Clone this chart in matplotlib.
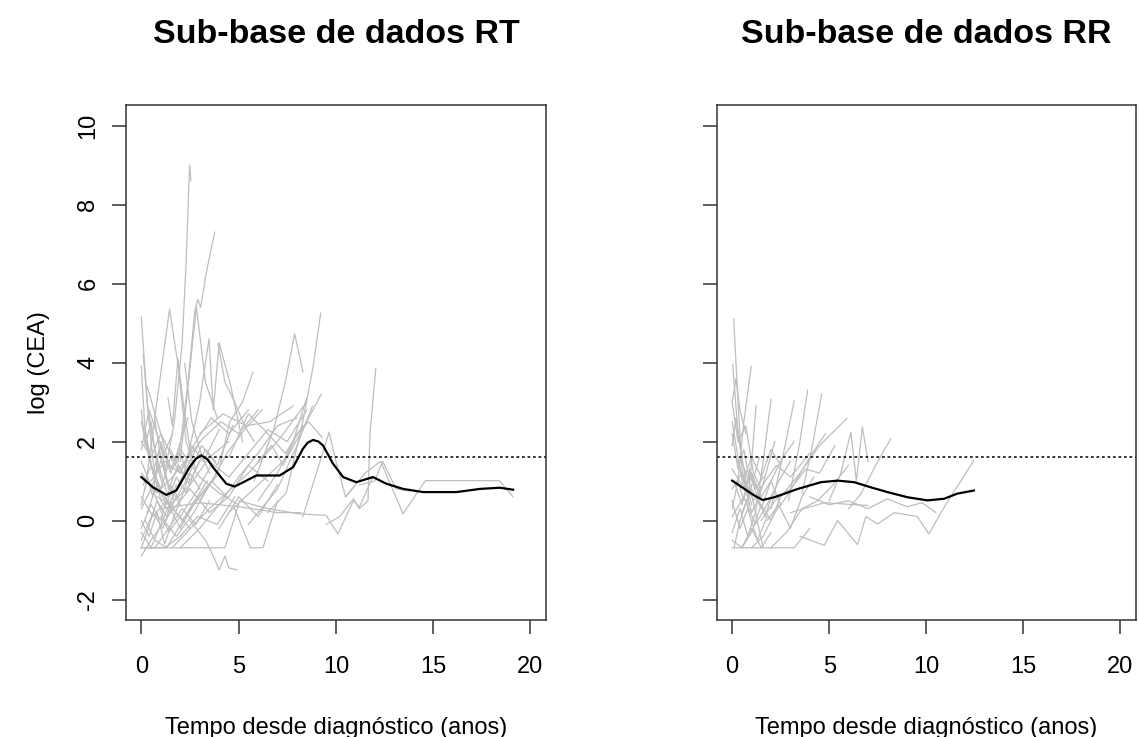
import numpy as np
import matplotlib.pyplot as plt

plt.rcParams['font.family'] = ['Liberation Sans', 'DejaVu Sans']
plt.rcParams['axes.unicode_minus'] = False

# perfis individuais de log(CEA) - sub-base RT
rt_tempo = [
    [1.2, 1.7, 2.1, 2.3, 2.48, 2.55],
    [1.9, 2.4, 2.75, 2.9, 3.05, 3.35, 3.77],
    [0.0, 0.3, 0.6, 1.0, 1.5],
    [0.2, 0.8, 1.45, 1.9, 2.3, 2.8],
    [2.2, 3.0, 3.48, 3.7, 4.0, 4.6, 5.2],
    [0.0, 0.2, 0.5, 0.9],
    [3.0, 4.0, 4.54, 5.2, 5.74],
    [5.8, 6.8, 7.4, 7.88, 8.31],
    [6.5, 7.45, 8.3, 8.83, 9.22],
    [9.5, 10.2, 10.9, 11.2, 11.65, 11.75, 12.05],
    [10.5, 11.5, 12.3, 13.45, 14.6, 15.5, 17.0, 18.4, 19.1],
    [5.0, 6.5, 8.1, 9.5, 10.1, 10.9, 11.2, 11.9],
    [1.0, 3.0, 5.0, 7.0, 8.2],
    [2.5, 3.3, 3.7, 4.0, 4.3, 4.5, 4.9],
    [0.0, 1.2, 2.4, 3.4, 4.3, 5.0],
    [4.8, 5.6, 6.25, 7.0],
    [0.0, 0.5, 1.5, 2.5],
    [4.5, 6.0, 7.5, 8.6, 9.25],
    [5.5, 7.0, 8.0, 8.8],
    [8.3, 9.0, 9.65, 10.0, 10.5, 11.0],
    [1.6, 3.5, 5.5, 7.0, 8.5],
    [1.37, 1.6, 1.88, 2.2, 2.6],
    [0.68, 1.0, 1.4, 2.0],
    [2.23, 2.6, 3.0, 3.5],
    [3.94, 4.3, 4.8, 5.3, 5.8],
    [2.0, 2.83, 3.3, 3.9],
    [0.0, 0.3, 0.7, 1.2, 1.8, 2.5],
    [0.0, 0.5, 1.0, 1.6],
    [0.0, 0.4, 0.9, 1.4, 2.0, 2.8, 3.6],
    [0.0, 0.6, 1.1, 1.7, 2.3],
    [0.1, 0.5, 1.0, 1.5, 2.0, 2.6, 3.2, 4.0],
    [0.0, 0.3, 0.8, 1.3, 1.8],
    [0.0, 0.5, 1.0, 1.5, 2.0, 3.0, 4.0, 5.0],
    [0.2, 0.7, 1.3, 1.9, 2.6, 3.4],
    [0.0, 0.8, 1.6, 2.4, 3.2, 4.1, 5.0, 6.0],
    [0.5, 1.0, 1.6, 2.3, 3.0],
    [0.0, 0.4, 0.8, 1.2],
    [1.0, 1.8, 2.7, 3.5, 4.4, 5.3, 6.2],
    [0.0, 0.6, 1.3, 2.1, 3.0, 4.0],
    [2.0, 3.0, 4.0, 5.0, 6.0, 7.0, 8.0],
    [3.0, 4.2, 5.4, 6.6, 7.8],
    [0.3, 1.0, 1.7, 2.4],
    [1.5, 2.3, 3.1, 3.9, 4.7],
    [0.0, 0.5, 1.2, 2.0, 2.9, 3.9, 4.8],
    [6.0, 6.7, 7.3, 8.0, 8.6, 9.3],
    [0.1, 0.3, 0.6, 1.0, 1.4],
    [4.5, 5.5, 6.5, 7.4, 8.3],
    [0.8, 1.5, 2.5, 3.5, 4.5],
    [11.2, 12.0, 12.4, 13.1, 13.8],
    [0.0, 0.3, 0.6, 0.9, 1.3, 1.7],
    [0.0, 0.5, 1.0, 1.5, 2.0, 2.5, 3.0],
    [0.2, 0.6, 1.0, 1.4, 1.9, 2.5],
    [0.0, 0.4, 0.8, 1.2, 1.6, 2.0],
    [0.5, 1.2, 2.0, 2.8, 3.6, 4.5, 5.5],
    [0.0, 0.7, 1.4, 2.1, 2.8, 3.5],
    [1.0, 1.5, 2.0, 2.5, 3.0],
    [3.5, 4.5, 5.5, 6.5, 7.5, 8.5],
    [2.5, 3.5, 4.5, 5.5, 6.5],
    [0.0, 0.2, 0.5, 0.8, 1.1],
    [4.0, 5.0, 6.0, 7.0],
    [0.3, 0.8, 1.3, 1.8, 2.3, 2.8, 3.3, 3.8],
    [6.0, 7.0, 7.8, 8.5],
    [1.2, 2.0, 2.8, 3.6, 4.4],
]
rt_cea = [
    [1.2, 2.5, 4.5, 6.5, 9.0, 8.6],
    [1.5, 3.5, 5.3, 5.6, 5.4, 6.3, 7.3],
    [5.15, 3.0, 1.5, 0.5, 0.2],
    [0.8, 3.0, 5.35, 3.9, 2.0, 1.3],
    [1.2, 3.0, 4.6, 2.8, 4.5, 3.4, 2.0],
    [3.9, 2.2, 1.4, 0.9],
    [0.5, 1.3, 2.5, 3.0, 3.76],
    [1.0, 2.3, 3.5, 4.73, 3.76],
    [0.2, 0.7, 2.5, 3.9, 5.25],
    [-0.1, 0.1, 0.55, 0.3, 0.5, 2.2, 3.85],
    [0.6, 1.2, 1.5, 0.17, 1.01, 1.01, 1.01, 1.01, 0.6],
    [0.5, 0.3, 0.17, 0.13, -0.34, 0.5, 0.34, 1.1],
    [0.3, 0.45, 0.35, 0.2, 0.2],
    [0.0, -0.5, -0.9, -1.25, -0.9, -1.2, -1.25],
    [-0.69, -0.69, -0.69, -0.69, -0.69, 0.4],
    [0.3, -0.69, -0.69, 0.5],
    [-0.9, -0.5, 0.2, 0.8],
    [0.2, 0.9, 1.6, 2.6, 3.2],
    [-0.1, 0.8, 1.9, 2.9],
    [0.1, 1.2, 2.24, 1.5, 0.6, 0.9],
    [-0.68, 0.3, 1.2, 2.0, 3.0],
    [3.1, 2.4, 4.1, 2.8, 1.5],
    [2.6, 1.6, 0.9, 0.4],
    [3.97, 2.5, 1.8, 1.2],
    [4.48, 3.5, 3.0, 2.4, 2.0],
    [1.5, 5.41, 3.5, 2.6],
    [2.5, 1.8, 1.0, 0.6, 0.2, -0.2],
    [0.3, 0.8, 1.5, 2.2],
    [1.5, 1.0, 0.4, -0.3, 0.1, 0.7, 1.4],
    [-0.5, 0.2, -0.2, 0.5, 1.0],
    [0.9, 1.4, 0.8, 1.6, 1.2, 1.9, 1.5, 2.3],
    [-0.69, -0.3, 0.5, 0.1, 0.9],
    [2.0, 1.6, 2.2, 1.3, 1.8, 1.1, 0.7, 0.4],
    [0.0, -0.5, -0.69, -0.2, 0.4, 1.0],
    [1.2, 0.7, 1.1, 1.6, 2.1, 2.5, 2.2, 2.8],
    [-0.69, -0.1, 0.6, 1.3, 2.0],
    [1.8, 2.8, 2.2, 1.6],
    [0.1, -0.4, 0.2, 0.9, 1.7, 2.3, 2.8],
    [0.6, 0.1, 0.5, 0.0, 0.6, 1.2],
    [-0.69, -0.2, 0.4, 1.1, 1.7, 2.4, 2.6],
    [2.2, 2.7, 2.4, 2.5, 2.9],
    [3.4, 2.2, 1.5, 2.6],
    [1.8, 1.0, 1.9, 1.4, 2.4],
    [-0.3, -0.69, -0.69, -0.4, 0.1, -0.1, 0.6],
    [1.5, 1.9, 1.4, 2.2, 2.5, 2.1],
    [4.2, 3.0, 2.0, 1.2, 0.6],
    [1.6, 2.7, 2.2, 1.7, 2.4],
    [0.6, 0.4, 0.9, 1.6, 2.0],
    [0.9, 1.0, 1.5, 0.8, 0.75],
    [0.4, 1.1, 0.6, 1.8, 1.0, 0.5],
    [-0.2, 0.4, 0.0, 0.9, 0.5, 1.2, 0.8],
    [2.3, 1.2, 1.9, 0.8, 1.4, 0.9],
    [0.0, -0.4, 0.2, -0.6, 0.0, 0.5],
    [1.0, 1.5, 1.2, 2.0, 2.6, 2.2, 2.8],
    [-0.69, -0.69, -0.2, 0.3, -0.1, 0.5],
    [2.0, 1.2, 1.7, 1.0, 1.5],
    [1.5, 1.1, 1.7, 2.3, 2.0, 2.8],
    [0.8, 0.2, 0.6, 1.4, 1.0],
    [2.8, 1.9, 2.5, 1.4, 0.9],
    [-0.2, 0.6, 0.1, 0.9],
    [0.2, 0.9, 0.4, 1.1, 0.7, 1.3, 1.8, 1.5],
    [0.5, 1.2, 2.0, 3.1],
    [0.6, -0.2, 0.5, 1.0, 0.6],
]

# perfis individuais - sub-base RR
rr_tempo = [
    [0.08, 0.3, 0.5, 0.8],
    [0.03, 0.3, 0.7, 1.0],
    [0.3, 0.6, 0.98],
    [0.8, 1.0, 1.23],
    [1.2, 1.6, 2.0],
    [2.0, 2.6, 3.2],
    [2.9, 3.46, 3.89],
    [3.6, 4.1, 4.61],
    [2.5, 3.5, 4.5, 5.91],
    [5.0, 5.6, 6.12, 6.4, 6.71, 7.0],
    [6.0, 6.63, 7.4, 8.17],
    [3.5, 4.75, 5.43, 6.46, 6.89, 7.49, 8.35, 9.54, 10.14, 11.0, 12.46],
    [3.0, 4.75, 7.0],
    [0.0, 1.0, 2.0, 3.2, 4.0],
    [0.0, 0.3, 0.6, 1.0, 1.5],
    [0.0, 0.4, 0.8, 1.3, 1.8],
    [0.0, 0.5, 1.0, 1.5, 2.0, 2.5],
    [0.1, 0.4, 0.9, 1.4],
    [0.0, 0.2, 0.5, 0.9, 1.2],
    [0.0, 0.6, 1.2, 1.8, 2.4, 3.0],
    [0.5, 1.0, 1.5, 2.0, 2.5],
    [0.0, 0.5, 1.1, 1.7, 2.3, 3.0, 4.0],
    [1.0, 1.6, 2.2, 2.8, 3.4, 4.0, 4.8],
    [0.0, 0.3, 0.7, 1.1, 1.5],
    [1.5, 2.2, 3.0, 3.8, 4.5, 5.3],
    [0.2, 0.6, 1.0, 1.4, 1.8, 2.2],
    [2.0, 2.8, 3.6, 4.4, 5.2, 6.0],
    [0.0, 0.2, 0.4, 0.7],
    [4.0, 5.0, 6.0, 7.0, 8.0, 9.0, 9.8, 10.5],
    [0.0, 0.3, 0.6, 0.9, 1.2, 1.6],
    [0.0, 0.4, 0.8, 1.2, 1.6],
    [0.1, 0.5, 0.9, 1.3, 1.7, 2.1],
    [0.0, 0.3, 0.6, 0.9],
    [0.5, 1.0, 1.5, 2.0, 2.6, 3.2],
    [1.0, 1.5, 2.0, 2.5],
    [0.0, 0.5, 1.0, 1.5, 2.0],
    [1.8, 2.4, 3.0, 3.6, 4.2],
]
rr_cea = [
    [5.1, 3.0, 1.3, 0.6],
    [3.95, 2.2, 1.0, 0.4],
    [1.0, 2.5, 3.9],
    [0.3, 1.5, 2.9],
    [0.2, 1.5, 3.06],
    [0.3, 1.6, 3.04],
    [0.5, 1.9, 3.3],
    [0.7, 1.8, 3.2],
    [0.6, 1.2, 1.9, 2.58],
    [0.5, 1.2, 2.24, 1.0, 2.37, 1.5],
    [0.3, 0.67, 1.4, 2.07],
    [-0.4, -0.63, 0.0, -0.61, 0.1, -0.09, 0.2, 0.1, -0.34, 0.4, 1.52],
    [0.2, 0.45, 0.38],
    [-0.69, -0.69, -0.69, -0.69, -0.2],
    [2.5, 1.6, 0.8, 1.2, 0.5],
    [0.5, -0.2, 0.3, -0.5, 0.1],
    [1.3, 0.9, 1.6, 1.1, 1.8, 1.4],
    [-0.69, 0.0, 0.7, 1.6],
    [1.9, 2.6, 1.5, 0.9, 0.2],
    [0.1, 0.6, -0.1, 0.4, 1.0, 1.5],
    [-0.69, -0.3, 0.4, 0.0, 0.6],
    [0.8, 1.2, 0.5, 1.0, 1.4, 1.1, 1.7],
    [-0.69, -0.4, 0.2, 0.6, 1.1, 1.6, 2.2],
    [3.0, 2.0, 2.4, 1.2, 0.8],
    [0.0, 0.5, 0.8, 1.3, 1.2, 1.9],
    [1.6, 1.0, 0.2, 0.6, 1.3, 2.0],
    [-0.69, -0.3, 0.3, 0.5, 0.9, 1.4],
    [3.0, 3.6, 2.8, 2.2],
    [0.6, 0.4, 0.5, 0.3, 0.55, 0.35, 0.45, 0.2],
    [0.3, 1.0, 0.5, 1.3, 0.8, 1.1],
    [-0.3, 0.3, -0.4, 0.2, -0.69],
    [1.0, 0.4, 1.2, 0.6, 0.1, 0.7],
    [2.2, 1.3, 1.8, 1.0],
    [0.2, 0.8, 0.3, 1.0, 1.6, 2.0],
    [1.2, 0.6, 1.0, 0.4],
    [-0.5, -0.69, -0.2, -0.69, -0.3],
    [0.0, 0.4, -0.2, 0.6, 1.1],
]

# curvas medias suavizadas
rt_suave_t = [0.0, 0.6, 1.29, 1.8, 2.48, 2.8, 3.08, 3.4, 3.68, 4.37, 4.8, 5.4, 5.91,
              7.11, 7.8, 8.31, 8.55, 8.83, 9.1, 9.34, 9.85, 10.37, 11.05, 11.91, 12.6,
              13.45, 14.48, 16.2, 17.4, 18.42, 19.11]
rt_suave_y = [1.10, 0.84, 0.65, 0.76, 1.35, 1.56, 1.65, 1.55, 1.35, 0.93, 0.86, 1.01,
              1.14, 1.14, 1.35, 1.82, 1.97, 2.04, 2.0, 1.90, 1.44, 1.10, 0.97, 1.10,
              0.93, 0.80, 0.72, 0.72, 0.80, 0.83, 0.78]
rr_suave_t = [0.0, 0.63, 1.15, 1.58, 2.18, 3.38, 4.58, 5.43, 6.29, 7.15, 8.0, 9.03,
              10.06, 10.92, 11.6, 12.46]
rr_suave_y = [1.01, 0.80, 0.63, 0.52, 0.59, 0.80, 0.97, 1.01, 0.97, 0.84, 0.72, 0.59,
              0.51, 0.55, 0.68, 0.76]

limiar = np.log(5)

fig = plt.figure(figsize=(11.39, 7.37), dpi=100)
ax1 = fig.add_axes([0.1104, 0.1587, 0.3690, 0.6988])
ax2 = fig.add_axes([0.6292, 0.1587, 0.3679, 0.6988])

paineis = [
    (ax1, rt_tempo, rt_cea, rt_suave_t, rt_suave_y, 'Sub-base de dados RT'),
    (ax2, rr_tempo, rr_cea, rr_suave_t, rr_suave_y, 'Sub-base de dados RR'),
]

for ax, tempos, valores, st, sy, titulo in paineis:
    for t, v in zip(tempos, valores):
        ax.plot(t, v, color='#bebebe', lw=0.9)
    ax.plot(st, sy, color='black', lw=1.6)
    ax.axhline(limiar, color='black', lw=1.1, linestyle=(0, (1.8, 1.8)))
    ax.set_xlim(-0.8, 20.8)
    ax.set_ylim(-2.52, 10.52)
    ax.set_xticks([0, 5, 10, 15, 20])
    ax.set_yticks([-2, 0, 2, 4, 6, 8, 10])
    ax.tick_params(direction='out', length=10, width=1.1, labelsize=17, color='#333333')
    ax.tick_params(axis='x', pad=16)
    ax.tick_params(axis='y', pad=9)
    for s in ax.spines.values():
        s.set_linewidth(1.1)
        s.set_color('#333333')
    ax.set_xlabel('Tempo desde diagnóstico (anos)', fontsize=17, labelpad=28)
    ax.set_title(titulo, fontsize=24.5, fontweight='bold', pad=45)

for lab in ax1.get_yticklabels():
    lab.set_rotation(90)
    lab.set_va('center')
ax2.set_yticklabels([])
ax1.set_ylabel('log (CEA)', fontsize=17, labelpad=20)

fig.savefig('out.png', dpi=100)
